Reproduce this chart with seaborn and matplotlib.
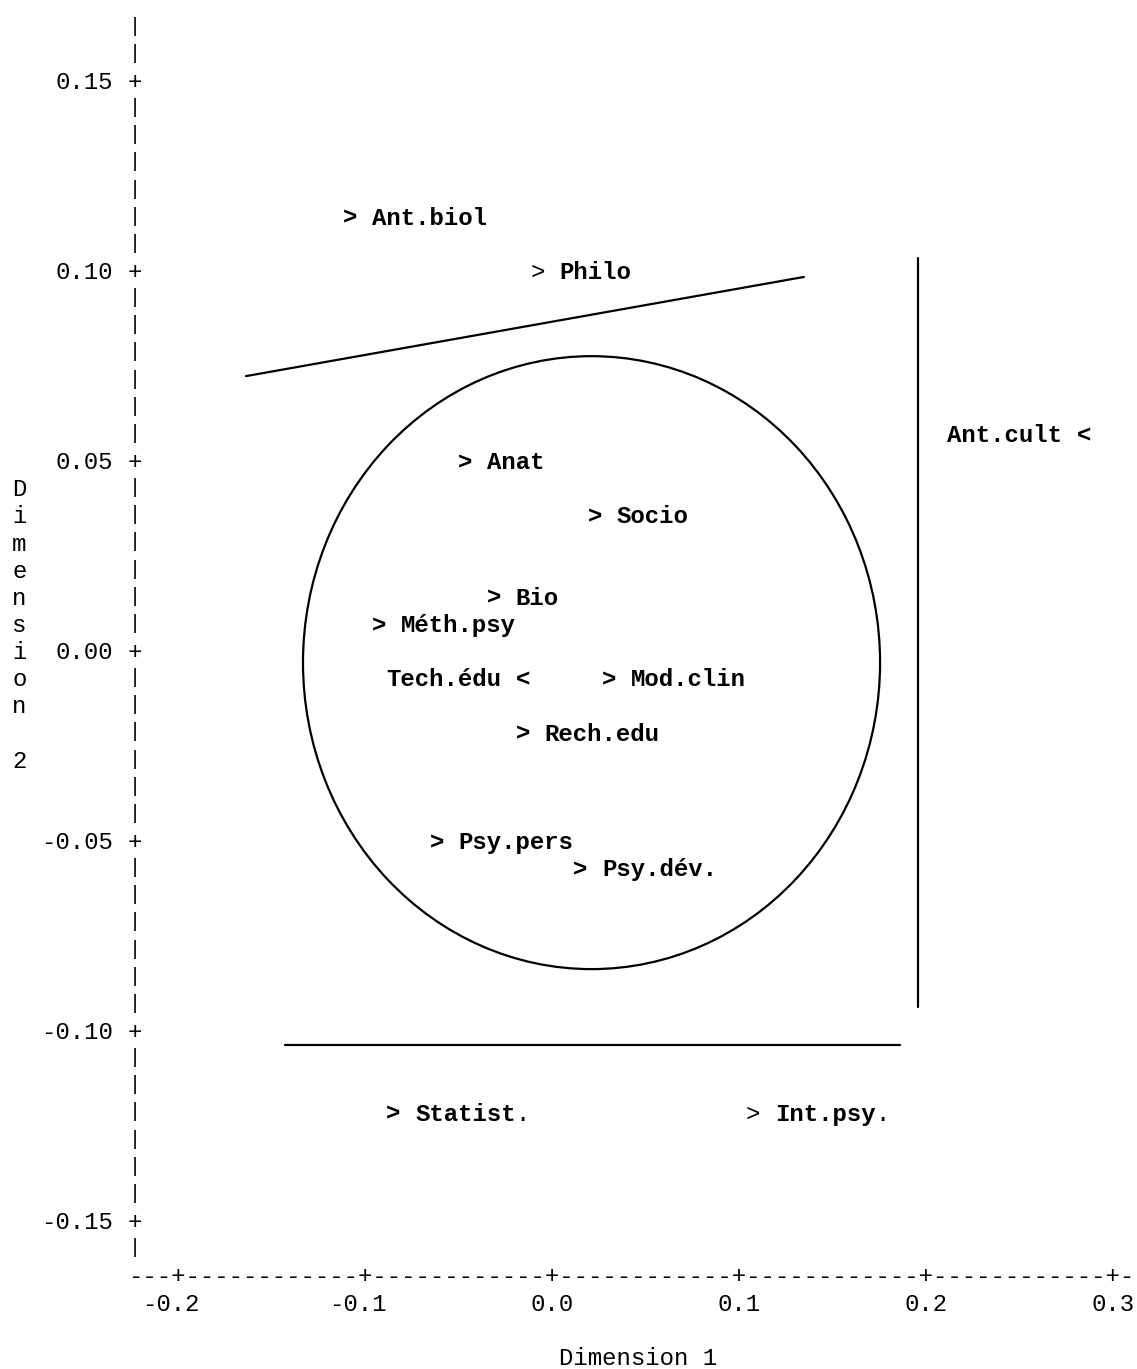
import numpy as np
import pandas as pd
import matplotlib
matplotlib.use("Agg")
import matplotlib.pyplot as plt
import seaborn as sns
from matplotlib.patches import Ellipse

# Correspondence-analysis coordinates of the course variables
names = ["Ant.biol", "Philo", "Anat", "Socio", "Bio", "Méth.psy", "Tech.édu",
         "Mod.clin", "Rech.edu", "Psy.pers", "Psy.dév.", "Ant.cult",
         "Statist.", "Int.psy."]
dim1 = [-0.108, -0.008, -0.046, 0.023, -0.031, -0.092, -0.015,
        0.031, -0.015, -0.062, 0.015, 0.285, -0.085, 0.108]
dim2 = [0.114, 0.100, 0.050, 0.036, 0.014, 0.007, -0.007,
        -0.007, -0.021, -0.050, -0.057, 0.057, -0.121, -0.121]
pointers = [">", ">", ">", ">", ">", ">", "<",
            ">", ">", ">", ">", "<", ">", ">"]
light_pointer = ["Philo", "Int.psy."]
light_tail = ["Statist.", "Int.psy."]

x_ticks = [-0.2, -0.1, 0.0, 0.1, 0.2, 0.3]
x_tick_labels = ["-0.2", "-0.1", "0.0", "0.1", "0.2", "0.3"]
y_ticks = [0.15, 0.10, 0.05, 0.00, -0.05, -0.10, -0.15]
y_tick_labels = ["0.15", "0.10", "0.05", "0.00", "-0.05", "-0.10", "-0.15"]

# Group boundaries drawn over the character plot
seg_id = [0, 0, 1, 1, 2, 2]
seg_x = [-0.1635, 0.1349, 0.1959, 0.1959, -0.1426, 0.1863]
seg_y = [0.0726, 0.0987, 0.1037, -0.0934, -0.1034, -0.1034]
ell_center = (0.0213, -0.0028)
ell_width = 0.3086
ell_height = 0.1613

x_title = "Dimension 1"
y_title = "Dimension 2"

sns.set_theme(style="white")
MONO = ["Liberation Mono", "DejaVu Sans Mono"]
plt.rcParams["font.family"] = MONO

W, H, DPI = 1137, 1369, 100
fig = plt.figure(figsize=(W / DPI, H / DPI), dpi=DPI)
ax = fig.add_axes([0, 0, 1, 1])

FS = 17.26             # 0.6 em advance = one column
FS_BAR = 14.5          # vertical bars leave a small gap between rows
CW = 0.1 / 13          # one character column
RH = 0.05 / 7          # one character row
BASE = 7.2 / 3800      # row centre to baseline
YAX = -0.2 - 3 * CW    # column holding the vertical axis
XROW = -0.15 - 2 * RH  # row holding the horizontal axis


def col(x):
    return np.round(x / CW) * CW


def row(y):
    return np.round(y / RH) * RH


def put(x, y, s, weight="normal"):
    ax.text(x, y - BASE, s, ha="center", va="baseline", fontsize=FS,
            fontweight=weight, family=MONO, color="black")


# vertical axis made of characters
k_top = int(round((0.15 + 2 * RH) / RH))
k_bot = int(round((-0.15 - RH) / RH))
for k in range(k_bot, k_top + 1):
    if k % 7 == 0:
        put(YAX, k * RH, "+")
    else:
        ax.text(YAX, k * RH + 1.5 / 3800, "|", ha="center", va="center",
                fontsize=FS_BAR, family=MONO, color="black")
for v, lab in zip(y_ticks, y_tick_labels):
    n = len(lab)
    put(YAX - (2 + (n - 1) / 2) * CW, row(v), lab)

# horizontal axis made of characters
axis_str = "---+" + "------------+" * 5 + "-"
put(YAX + (len(axis_str) - 1) / 2 * CW, XROW, axis_str)
for v, lab in zip(x_ticks, x_tick_labels):
    n, d = len(lab), lab.index(".")
    put(col(v) + ((n - 1) / 2 - d) * CW, XROW - RH, lab)

# axis titles
put(YAX + 35 * CW, XROW - 3 * RH, x_title)
for i, ch in enumerate(y_title):
    if ch != " ":
        put(YAX - 8 * CW, (6 - i) * RH, ch)

# labelled points
for name, x, y, p in zip(names, dim1, dim2, pointers):
    xc, yc = col(x), row(y)
    put(xc, yc, p, "normal" if name in light_pointer else "bold")
    body = name[:-1] if name in light_tail else name
    n = len(name)
    start = xc + 2 * CW if p == ">" else xc - (n + 1) * CW
    put(start + (len(body) - 1) / 2 * CW, yc, body, "bold")
    if name in light_tail:
        put(start + (n - 1) * CW, yc, name[-1], "normal")

# boundaries
segs = pd.DataFrame({"seg": seg_id, "x": seg_x, "y": seg_y})
sns.lineplot(data=segs, x="x", y="y", units="seg", estimator=None,
             sort=False, color="black", linewidth=1.6, ax=ax, legend=False)
ax.add_patch(Ellipse(ell_center, ell_width, ell_height, fill=False,
                     edgecolor="black", linewidth=1.6))
ax.set_xlim(-551.7 / 1870, (W - 551.7) / 1870)
ax.set_ylim((652 - H) / 3800, 652 / 3800)
ax.axis("off")

fig.savefig("out.png", dpi=DPI, facecolor="white")
